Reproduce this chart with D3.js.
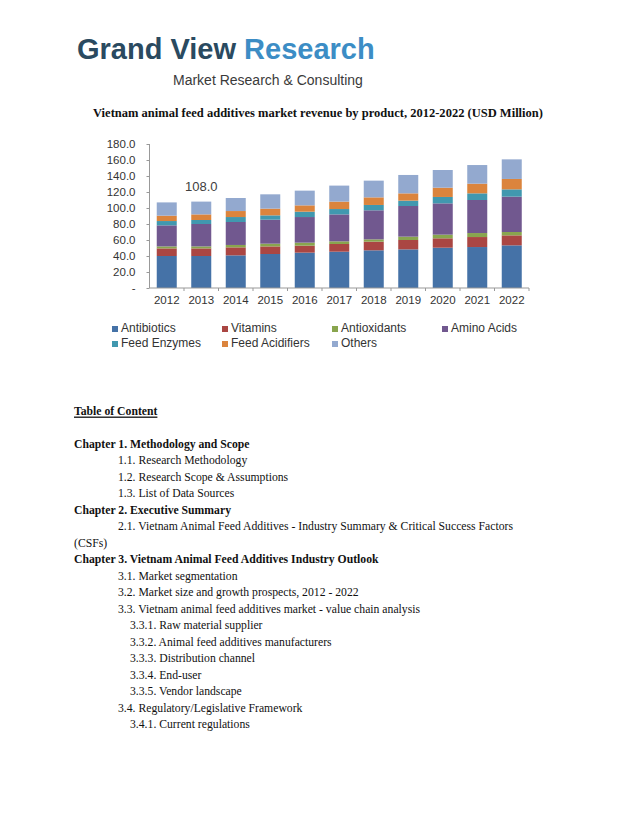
<!DOCTYPE html>
<html>
<head>
<meta charset="utf-8">
<script src="https://cdn.jsdelivr.net/npm/d3@7"></script>
<style>
  body { margin: 0; background: #fff; }
  svg { display: block; }
  .axis text { font-family: "Liberation Sans", Arial, sans-serif; font-size: 11.5px; fill: #333; }
  .axis path, .axis line { stroke: #999; }
  .legend text { font-family: "Liberation Sans", Arial, sans-serif; font-size: 12px; fill: #333; }
  .serif { font-family: "Liberation Serif", "Times New Roman", serif; fill: #111; }
</style>
</head>
<body>
<div id="page"></div>
<script>
const WIDTH = 638;
const HEIGHT = 826;
// the pdf text is a bit narrower than Liberation Serif
const SQUEEZE = 0.9;

// chart data, USD million
const years = ['2012', '2013', '2014', '2015', '2016', '2017', '2018', '2019', '2020', '2021', '2022'];
const products = ['Antibiotics', 'Vitamins', 'Antioxidants', 'Amino Acids', 'Feed Enzymes', 'Feed Acidifiers', 'Others'];
const colors = ['#4572A7', '#AA4643', '#89A54E', '#71588F', '#4198AF', '#DB843D', '#93A9CF'];

const antibiotics = [40.0, 40.0, 40.8, 42.5, 44.2, 45.4, 47.1, 48.3, 50.4, 51.2, 53.3];
const vitamins = [9.5, 9.5, 10.0, 9.5, 8.7, 9.6, 10.8, 11.7, 11.7, 12.5, 12.5];
const antioxidants = [2.5, 2.5, 3.0, 3.4, 3.8, 3.3, 2.9, 4.2, 4.6, 5.0, 4.2];
const aminoAcids = [26.3, 28.0, 28.7, 30.0, 32.0, 33.7, 36.3, 38.3, 39.1, 41.3, 44.2];
const feedEnzymes = [5.4, 5.0, 6.2, 5.4, 6.7, 6.7, 6.7, 6.7, 8.0, 8.3, 9.1];
const feedAcidifiers = [6.7, 7.0, 7.5, 8.4, 7.9, 9.3, 9.5, 9.1, 11.6, 12.1, 13.0];
const others = [16.6, 16.0, 16.3, 17.9, 18.4, 20.0, 20.9, 23.0, 22.1, 23.3, 24.5];

const yTicks = [0, 20, 40, 60, 80, 100, 120, 140, 160, 180];
const labelled = { year: '2013', text: '108.0' };

const toc = [
  { text: 'Chapter 1. Methodology and Scope', level: 0 },
  { text: '1.1. Research Methodology', level: 1 },
  { text: '1.2. Research Scope & Assumptions', level: 1 },
  { text: '1.3. List of Data Sources', level: 1 },
  { text: 'Chapter 2. Executive Summary', level: 0 },
  { text: '2.1. Vietnam Animal Feed Additives - Industry Summary & Critical Success Factors', level: 1 },
  { text: '(CSFs)', level: 3 },
  { text: 'Chapter 3. Vietnam Animal Feed Additives Industry Outlook', level: 0 },
  { text: '3.1. Market segmentation', level: 1 },
  { text: '3.2. Market size and growth prospects, 2012 - 2022', level: 1 },
  { text: '3.3. Vietnam animal feed additives market - value chain analysis', level: 1 },
  { text: '3.3.1. Raw material supplier', level: 2 },
  { text: '3.3.2. Animal feed additives manufacturers', level: 2 },
  { text: '3.3.3. Distribution channel', level: 2 },
  { text: '3.3.4. End-user', level: 2 },
  { text: '3.3.5. Vendor landscape', level: 2 },
  { text: '3.4. Regulatory/Legislative Framework', level: 1 },
  { text: '3.4.1. Current regulations', level: 2 },
];

const series = [antibiotics, vitamins, antioxidants, aminoAcids, feedEnzymes, feedAcidifiers, others];
const rows = years.map((year, i) => {
  const row = { year };
  products.forEach((p, j) => { row[p] = series[j][i]; });
  return row;
});

const svg = d3.select('#page').append('svg')
  .attr('width', WIDTH)
  .attr('height', HEIGHT);

svg.append('rect')
  .attr('width', WIDTH)
  .attr('height', HEIGHT)
  .attr('fill', '#fff');

// logo
const logo = svg.append('g');
logo.append('text')
  .attr('x', 77)
  .attr('y', 59)
  .style('font-family', '"Liberation Sans", Arial, sans-serif')
  .style('font-weight', 'bold')
  .style('font-size', '29px')
  .call(t => {
    t.append('tspan').attr('fill', '#2A4A60').text('Grand View ');
    t.append('tspan').attr('fill', '#3C8DC5').text('Research');
  });

logo.append('text')
  .attr('x', 173)
  .attr('y', 85)
  .attr('fill', '#3a3a3a')
  .style('font-family', '"Liberation Sans", Arial, sans-serif')
  .style('font-size', '14px')
  .text('Market Research & Consulting');

// chart title
svg.append('text')
  .attr('class', 'serif')
  .attr('transform', 'translate(318,117) scale(0.964,1)')
  .attr('text-anchor', 'middle')
  .style('font-weight', 'bold')
  .style('font-size', '13px')
  .text('Vietnam animal feed additives market revenue by product, 2012-2022 (USD Million)');

// chart
const x = d3.scaleBand()
  .domain(years)
  .range([149.5, 529])
  .paddingInner(0.42)
  .paddingOuter(0.21);

const y = d3.scaleLinear()
  .domain([0, 180])
  .range([288, 144]);

const stacked = d3.stack().keys(products)(rows);

const chart = svg.append('g');

chart.selectAll('g.layer')
  .data(stacked)
  .join('g')
  .attr('class', 'layer')
  .attr('fill', (d, i) => colors[i])
  .selectAll('rect')
  .data(d => d)
  .join('rect')
  .attr('x', d => x(d.data.year))
  .attr('width', x.bandwidth())
  .attr('y', d => y(d[1]))
  .attr('height', d => y(d[0]) - y(d[1]));

const yAxis = chart.append('g')
  .attr('class', 'axis')
  .attr('transform', `translate(${x.range()[0]},0)`)
  .call(d3.axisLeft(y)
    .tickValues(yTicks)
    .tickSize(3)
    .tickPadding(11)
    .tickFormat(d => d === 0 ? '-' : d.toFixed(1)));
yAxis.select('.domain').attr('d', `M0,${y(0)}V${y(180)}`);

const xAxis = chart.append('g')
  .attr('class', 'axis')
  .attr('transform', `translate(0,${y(0)})`)
  .call(d3.axisBottom(x).tickSize(0).tickPadding(8));
xAxis.select('.domain').attr('d', `M${x.range()[0]},0H${x.range()[1]}`);

// small ticks between the categories
const gap = (x.step() - x.bandwidth()) / 2;
xAxis.selectAll('line.sep')
  .data(years.slice(1).concat(['end']))
  .join('line')
  .attr('class', 'sep')
  .attr('x1', d => d === 'end' ? x.range()[1] : x(d) - gap)
  .attr('x2', d => d === 'end' ? x.range()[1] : x(d) - gap)
  .attr('y1', 0)
  .attr('y2', 3);

// total label on one bar
const idx = years.indexOf(labelled.year);
chart.append('text')
  .attr('x', x(labelled.year) + x.bandwidth() / 2)
  .attr('y', y(d3.sum(series, s => s[idx])) - 11)
  .attr('text-anchor', 'middle')
  .attr('fill', '#404040')
  .style('font-family', '"Liberation Sans", Arial, sans-serif')
  .style('font-size', '13px')
  .text(labelled.text);

// legend, four per row
const legend = svg.append('g').attr('class', 'legend');
const item = legend.selectAll('g')
  .data(products)
  .join('g')
  .attr('transform', (d, i) => `translate(${112 + (i % 4) * 110},${332 + Math.floor(i / 4) * 15})`);

item.append('rect')
  .attr('x', 0)
  .attr('y', -6)
  .attr('width', 6)
  .attr('height', 6)
  .attr('fill', (d, i) => colors[i]);

item.append('text')
  .attr('x', 9)
  .attr('y', 0)
  .text(d => d);

// table of content
const tocGroup = svg.append('g')
  .attr('class', 'serif')
  .attr('transform', `scale(${SQUEEZE},1)`)
  .style('font-size', '13px');

tocGroup.append('text')
  .attr('x', 74 / SQUEEZE)
  .attr('y', 415.5)
  .style('font-weight', 'bold')
  .style('text-decoration', 'underline')
  .text('Table of Content');

const indent = [74, 118, 130, 74];
tocGroup.selectAll('text.entry')
  .data(toc)
  .join('text')
  .attr('class', 'entry')
  .attr('x', d => indent[d.level] / SQUEEZE)
  .attr('y', (d, i) => 448 + i * 16.5)
  .style('font-weight', d => d.level === 0 ? 'bold' : 'normal')
  .text(d => d.text);
</script>
</body>
</html>
